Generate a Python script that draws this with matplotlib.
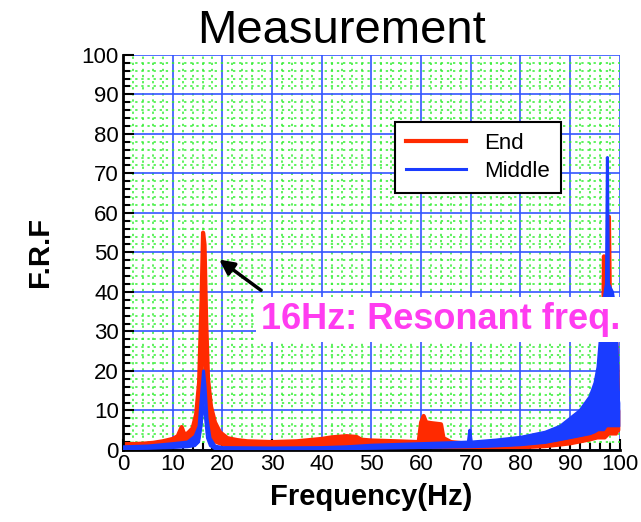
import matplotlib
matplotlib.use("Agg")
import matplotlib.pyplot as plt
from matplotlib.ticker import MultipleLocator

plt.rcParams['font.family'] = ['Liberation Sans', 'DejaVu Sans']

# End (red) band: frequency, lower edge, upper edge
end_freq = [0, 2, 4, 6, 8, 10, 11, 11.8, 12.3, 13, 14, 14.7, 15.3, 15.8, 16.1, 16.4, 16.7,
            17.1, 17.7, 18.5, 19.5, 21, 23, 25, 30, 35, 40, 42, 45, 47, 48, 50, 55,
            59.5, 60.0, 60.5, 61.0, 62, 64, 64.5, 66, 70, 75, 80, 85, 88, 90, 92, 94,
            95.5, 96.5, 96.8, 97.0, 97.8, 98.2, 98.8, 99.3, 99.7, 100]
end_lo = [0.3, 0.3, 0.4, 0.5, 0.6, 0.8, 1.0, 1.2, 1.2, 1.5, 1.8, 3, 6, 15, 30, 25, 12,
          6, 3, 2, 1.5, 1.0, 0.6, 0.5, 0.4, 0.4, 0.5, 0.5, 0.5, 0.5, 0.5, 0.4, 0.4,
          0.4, 0.5, 0.6, 0.6, 0.6, 0.6, 0.5, 0.4, 0.3, 0.3, 0.5, 0.8, 1.2, 1.5, 2, 2.5,
          3, 3, 3, 3, 4, 4, 4, 4, 5, 5]
end_hi = [1.5, 1.5, 1.6, 1.8, 2.2, 2.8, 3.5, 5.8, 4.0, 4.2, 5.5, 9, 17, 38, 55, 52, 34,
          18, 11, 7, 4.5, 3, 2.5, 2.2, 2.0, 2.2, 2.8, 3.2, 3.5, 3.3, 2.6, 2.4, 2.2,
          2.0, 7.0, 8.6, 7.0, 6.8, 6.5, 3.0, 2.0, 1.5, 1.5, 2.0, 3.0, 3.8, 4.5, 5.5, 6.5,
          8, 12, 49, 20, 59, 15, 10, 27, 12, 10]

# Middle (blue) band
mid_freq = [0, 5, 10, 13, 14.5, 15.3, 15.8, 16.2, 16.5, 16.9, 17.5, 18.5, 20, 30, 40,
            45, 50, 55, 60, 65, 69.5, 69.8, 70.1, 75, 80, 85, 88, 90, 92, 94, 95,
            95.6, 96.2, 96.8, 97.3, 97.5, 97.7, 98.5, 99.0, 99.4, 99.7, 100]
mid_lo = [0.2, 0.3, 0.5, 0.7, 1.0, 2, 6, 12, 8, 3, 1, 0.2, 0.1, 0.1, 0.1,
          0.2, 0.3, 0.4, 0.5, 0.6, 0.7, 0.7, 0.7, 0.9, 1.2, 1.8, 2.5, 3, 3.5, 4, 4.5,
          5, 5, 5, 6, 6, 6, 6, 6, 6, 6, 6]
mid_hi = [0.8, 1.0, 1.6, 2.0, 3.5, 6, 14, 20, 16, 8, 3, 1.0, 0.6, 0.5, 0.6,
          0.8, 1.2, 1.4, 1.6, 1.8, 2.0, 5.0, 2.0, 2.5, 3.2, 4.5, 6.0, 8, 10, 13.5, 17,
          21, 30, 38, 42, 74, 42, 40, 36, 28, 15, 12]

red = '#ff2a00'
blue = '#1a3cff'

fig = plt.figure(figsize=(6.41, 5.22), dpi=100)
ax = fig.add_axes([0.192, 0.138, 0.775, 0.757])

ax.fill_between(end_freq, end_lo, end_hi, color=red, lw=0, zorder=2)
ax.plot(end_freq, end_hi, color=red, lw=3, label='End', zorder=2)
ax.plot(end_freq, end_lo, color=red, lw=2, zorder=2)
ax.fill_between(mid_freq, mid_lo, mid_hi, color=blue, lw=0, zorder=3)
ax.plot(mid_freq, mid_hi, color=blue, lw=2.2, label='Middle', zorder=3)
ax.plot(mid_freq, mid_lo, color=blue, lw=1.5, zorder=3)

ax.set_xlim(0, 100)
ax.set_ylim(0, 100)
ax.xaxis.set_major_locator(MultipleLocator(10))
ax.yaxis.set_major_locator(MultipleLocator(10))
ax.xaxis.set_minor_locator(MultipleLocator(2))
ax.yaxis.set_minor_locator(MultipleLocator(2))
ax.set_axisbelow(True)
ax.grid(which='minor', color='#33ee33', ls=(0, (1.5, 2.5)), lw=1.1)
ax.grid(which='major', color='#3355ff', ls='-', lw=1.2)
ax.tick_params(which='major', direction='in', length=8, width=1.5, labelsize=16, pad=3)
ax.tick_params(which='minor', direction='in', length=5, width=1.5)
for s in ['top', 'right']:
    ax.spines[s].set_visible(False)
for s in ['left', 'bottom']:
    ax.spines[s].set_linewidth(2)

fig.text(0.532, 0.898, 'Measurement', fontsize=34, ha='center', va='bottom')
ax.set_xlabel('Frequency(Hz)', fontsize=21, fontweight='bold', labelpad=6)
ax.set_ylabel('F.R.F', fontsize=21, fontweight='bold', labelpad=20)

leg = ax.legend(loc='upper left', bbox_to_anchor=(0.547, 0.83), borderaxespad=0,
                fontsize=16, fancybox=False, framealpha=1, edgecolor='black',
                handlelength=2.7, borderpad=0.5, labelspacing=0.3)
leg.get_frame().set_linewidth(1.5)
leg.set_zorder(5)

ax.annotate('', xy=(18.9, 48.6), xytext=(28.2, 40),
            arrowprops=dict(arrowstyle='-|>', color='black', lw=2.5, mutation_scale=22),
            zorder=6)
ax.text(64, 33, '16Hz: Resonant freq.', fontsize=26, fontweight='bold',
        color='#ff3cf0', ha='center', va='center', zorder=7,
        bbox=dict(facecolor='white', edgecolor='none', pad=4))

fig.savefig('out.png', dpi=100)
